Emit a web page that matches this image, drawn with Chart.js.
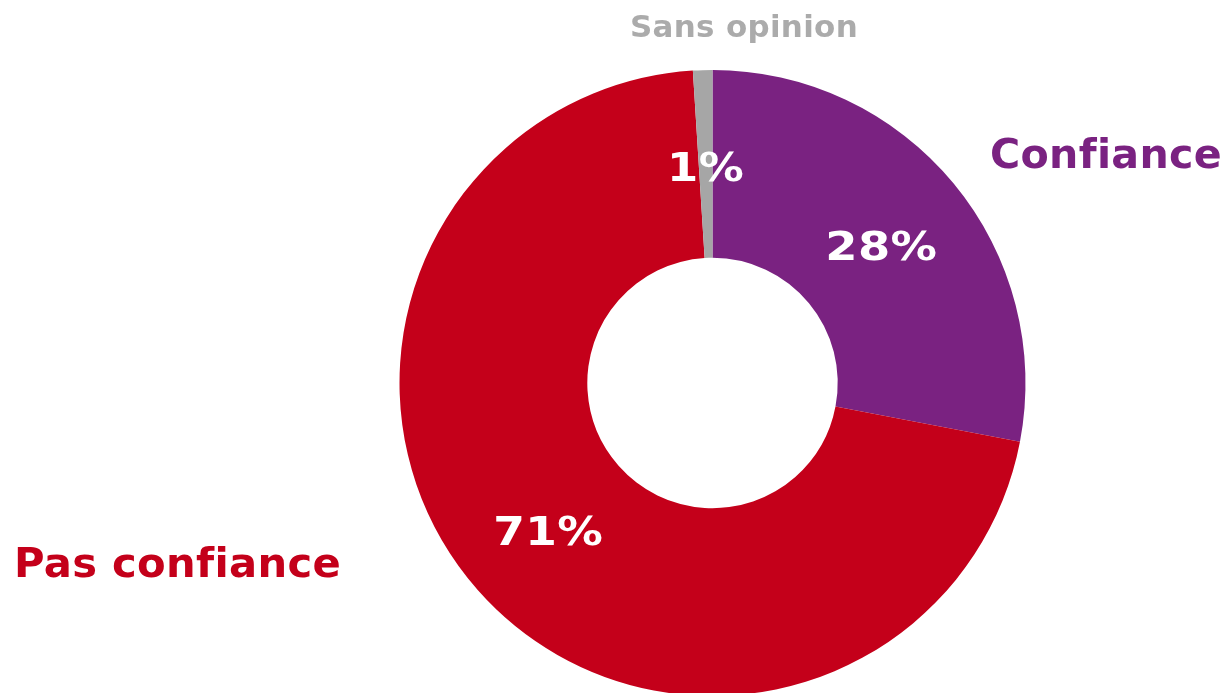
<!DOCTYPE html>
<html>
<head>
<meta charset="utf-8">
<script src="https://cdn.jsdelivr.net/npm/chart.js@4.4.0/dist/chart.umd.min.js"></script>
<style>
  html, body { margin: 0; padding: 0; background: #ffffff; overflow: hidden; }
  #wrap { position: relative; width: 1229px; height: 700px; }
</style>
</head>
<body>
<div id="wrap"><canvas id="c"></canvas></div>
<script>
const categories = ["Confiance", "Pas confiance", "Sans opinion"];
const values = [28, 71, 1];
const valueLabels = ["28%", "71%", "1%"];
const colors = ["#7A2281", "#C4001A", "#A6A6A6"];
const labelColors = ["#7A2281", "#C4001A", "#ABABAB"];

function drawFit(ctx, text, x, y, align, px, targetW) {
  ctx.font = "bold " + px + "px 'DejaVu Sans'";
  ctx.letterSpacing = '0.3px';
  const w = ctx.measureText(text).width;
  const s = targetW / w;
  ctx.save();
  ctx.translate(x, y);
  ctx.scale(s, 1);
  ctx.textAlign = align;
  ctx.textBaseline = 'alphabetic';
  ctx.fillText(text, 0, 0);
  ctx.restore();
}

const labelPlugin = {
  id: 'labels',
  afterDatasetsDraw(chart) {
    const ctx = chart.ctx;
    const meta = chart.getDatasetMeta(0);
    const pctWidths = [112, 110, 77];
    ctx.save();
    ctx.fillStyle = '#ffffff';
    meta.data.forEach((arc, i) => {
      const p = arc.tooltipPosition();
      drawFit(ctx, valueLabels[i], p.x, p.y + 17, 'center', 39, pctWidths[i]);
    });
    ctx.fillStyle = labelColors[0];
    drawFit(ctx, categories[0], 990, 168, 'left', 41, 232);
    ctx.fillStyle = labelColors[1];
    drawFit(ctx, categories[1], 14, 577, 'left', 41, 327);
    ctx.fillStyle = labelColors[2];
    drawFit(ctx, categories[2], 744, 37, 'center', 30, 228);
    ctx.restore();
  }
};

new Chart(document.getElementById('c'), {
  type: 'doughnut',
  data: {
    labels: categories,
    datasets: [{
      data: values,
      backgroundColor: colors,
      borderWidth: 0,
      hoverOffset: 0
    }]
  },
  options: {
    responsive: true,
    maintainAspectRatio: false,
    animation: false,
    cutout: '40%',
    layout: { padding: { top: 70, bottom: 4, left: 399.5, right: 203.5 } },
    plugins: { legend: { display: false }, tooltip: { enabled: false } },
    events: []
  },
  plugins: [labelPlugin]
});
</script>
</body>
</html>
